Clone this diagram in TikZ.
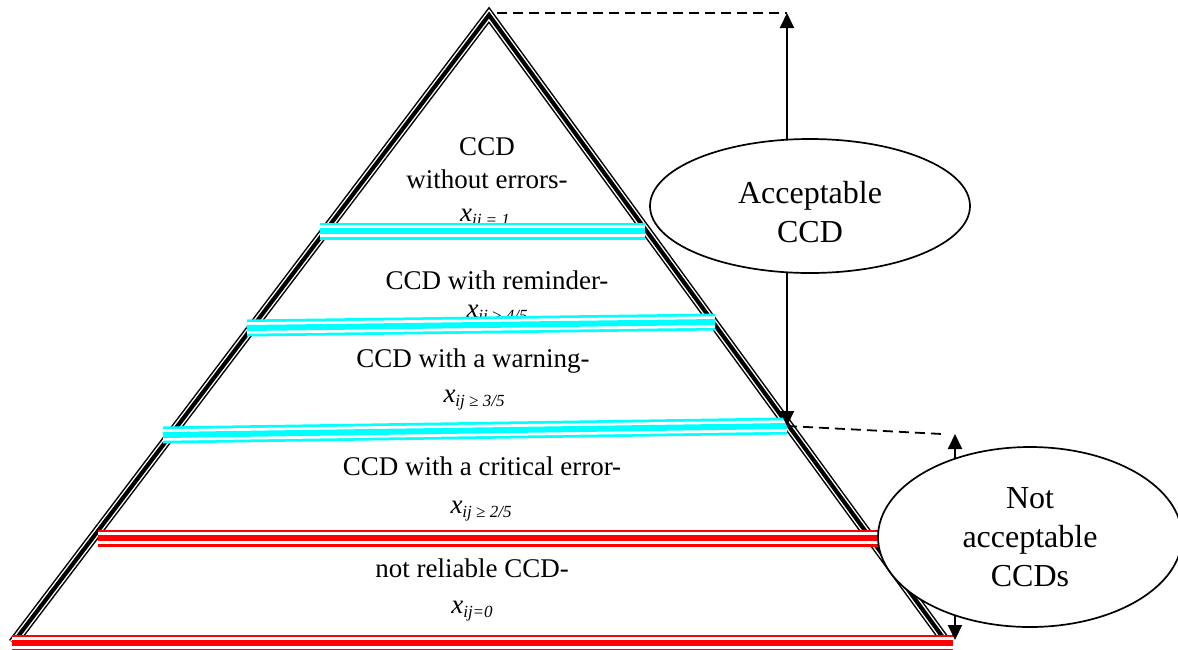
\documentclass[tikz,border=0pt]{standalone}
\usepackage{fontspec}
\setmainfont{Liberation Serif}
\usetikzlibrary{arrows.meta,shapes.geometric}
\definecolor{okband}{RGB}{0,255,255}
\definecolor{badband}{RGB}{255,0,0}
\newcommand{\xsub}[1]{\textit{x}\raisebox{-4.5pt}{\fontsize{17}{17}\selectfont\itshape #1}}
\tikzset{
  tiertext/.style={anchor=base,font=\fontsize{27}{32}\selectfont,inner sep=0pt},
  edgeline/.style={draw=black,line width=10pt,line join=miter,postaction={draw=white,line width=7pt},postaction={draw=black,line width=4.2pt}},
  band/.style={draw=#1,line width=17pt,postaction={draw=white,line width=11.5pt},postaction={draw=#1,line width=6pt}},
  guide/.style={draw=black,line width=1.8pt,dash pattern=on 10pt off 6pt},
  rangearrow/.style={{Triangle[length=15pt,width=14pt]}-{Triangle[length=15pt,width=14pt]},line width=2pt},
  verdict/.style={ellipse,draw=black,line width=1.7pt,fill=white,align=center,inner sep=0pt,font=\fontsize{32}{39}\selectfont}
}
\begin{document}
\begin{tikzpicture}[x=1pt,y=-1pt]
  \useasboundingbox (0,0) rectangle (1178,649);
  % pyramid corners
  \coordinate (apex) at (489,15);
  \coordinate (bl) at (13,643);
  \coordinate (br) at (947,643);
  % tier labels
  \node[tiertext] (t1a) at (487,155) {CCD};
  \node[tiertext] (t1b) at (487,188) {without errors-};
  \node[tiertext] (t1c) at (485,221) {\xsub{ij = 1}};
  \node[tiertext] (t2a) at (497,289) {CCD with reminder-};
  \node[tiertext] (t2b) at (497,317) {\xsub{ij ≥ 4/5}};
  \node[tiertext] (t3a) at (473,367) {CCD with a warning-};
  \node[tiertext] (t3b) at (474,402) {\xsub{ij ≥ 3/5}};
  \node[tiertext] (t4a) at (482,475) {CCD with a critical error-};
  \node[tiertext] (t4b) at (481,513) {\xsub{ij ≥ 2/5}};
  \node[tiertext] (t5a) at (472,577) {not reliable CCD-};
  \node[tiertext] (t5b) at (472,613) {\xsub{ij=0}};
  % pyramid sides
  \draw[edgeline] (bl) -- (apex) -- (br);
  % tier borders
  \coordinate (c1l) at (320,231); \coordinate (c1r) at (645,231);
  \coordinate (c2l) at (247,328); \coordinate (c2r) at (715,322);
  \coordinate (c3l) at (163,435); \coordinate (c3r) at (787,426);
  \coordinate (r1l) at (98,538);  \coordinate (r1r) at (878,538);
  \coordinate (r2l) at (12,643);  \coordinate (r2r) at (953,643);
  \draw[band=okband] (c1l) -- (c1r);
  \draw[band=okband] (c2l) -- (c2r);
  \draw[band=okband] (c3l) -- (c3r);
  \draw[band=badband] (r1l) -- (r1r);
  \draw[band=badband] (r2l) -- (r2r);
  % ranges
  \coordinate (acctop) at (787,13);
  \coordinate (badtop) at (955,434);
  \coordinate (badbot) at (955,640);
  \draw[guide] ([xshift=8pt]apex |- acctop) -- (acctop);
  \draw[guide] (c3r) -- ([xshift=-13pt]badtop);
  \draw[rangearrow] (acctop) -- (c3r);
  \draw[rangearrow] (badtop) -- (badbot);
  \node[verdict,minimum width=320pt,minimum height=134pt] (acc) at (810,206) {\rule{0pt}{34pt}Acceptable\\CCD};
  \node[verdict,minimum width=304pt,minimum height=180pt] (notacc) at (1030,537) {Not\\acceptable\\CCDs};
\end{tikzpicture}
\end{document}
